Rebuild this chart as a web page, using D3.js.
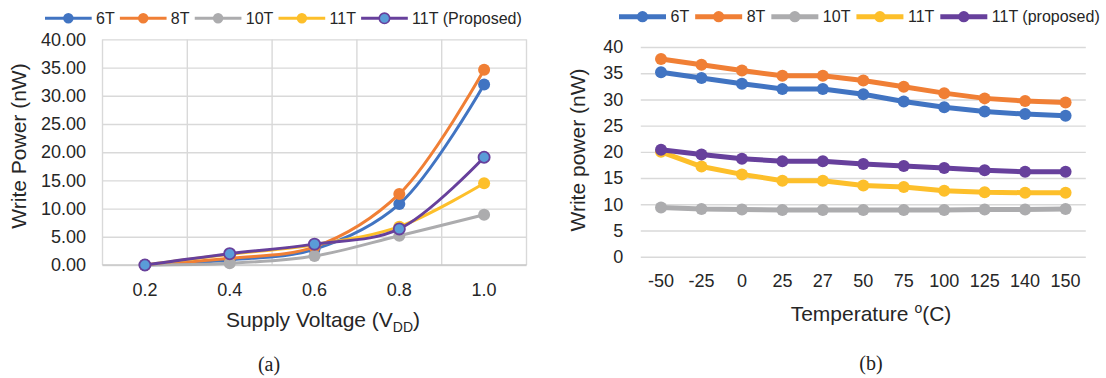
<!DOCTYPE html>
<html>
<head>
<meta charset="utf-8">
<script src="https://cdn.jsdelivr.net/npm/d3@7"></script>
<style>
  html, body { margin: 0; padding: 0; background: #fff; }
  svg { display: block; }
  text { font-family: "Liberation Sans", Arial, sans-serif; fill: #262626; }
  .caption { font-family: "Liberation Serif", "Times New Roman", serif; fill: #222; }
</style>
</head>
<body>
<svg id="fig" width="1106" height="378"></svg>
<script>
// ---- Panel (a): write power versus supply voltage ----
const voltages = ["0.2", "0.4", "0.6", "0.8", "1.0"];
const voltTicks = [0, 5, 10, 15, 20, 25, 30, 35, 40];
const volt6T   = [0, 0.9, 2.8, 10.8, 32.0];
const volt8T   = [0, 1.2, 3.2, 12.6, 34.6];
const volt10T  = [0, 0.3, 1.6, 5.2, 8.9];
const volt11T  = [0, 1.9, 3.6, 6.8, 14.5];
const volt11TP = [0, 2.0, 3.7, 6.4, 19.1];

// ---- Panel (b): write power versus temperature ----
const temps = ["-50", "-25", "0", "25", "27", "50", "75", "100", "125", "140", "150"];
const tempTicks = [0, 5, 10, 15, 20, 25, 30, 35, 40];
const temp6T   = [35.2, 34.1, 33.0, 32.0, 32.0, 31.0, 29.6, 28.5, 27.7, 27.2, 26.9];
const temp8T   = [37.7, 36.6, 35.5, 34.5, 34.5, 33.6, 32.4, 31.2, 30.2, 29.7, 29.4];
const temp10T  = [9.4, 9.1, 9.0, 8.9, 8.9, 8.9, 8.9, 8.9, 9.0, 9.0, 9.1];
const temp11T  = [20.0, 17.2, 15.7, 14.5, 14.5, 13.6, 13.3, 12.6, 12.3, 12.2, 12.2];
const temp11TP = [20.4, 19.5, 18.7, 18.2, 18.2, 17.7, 17.3, 16.9, 16.5, 16.2, 16.2];

const seriesNamesA = ["6T", "8T", "10T", "11T", "11T (Proposed)"];
const seriesNamesB = ["6T", "8T", "10T", "11T", "11T (proposed)"];
const colors = ["#4174c2", "#f07f35", "#acacae", "#fdbf2a", "#67409c"];
const proposedFill = "#5a9cd8";

const svg = d3.select("#fig");

// Legend: line + marker + label, laid out left to right
function legend(g, names, opt) {
  let x = opt.x0;
  names.forEach((name, i) => {
    const item = g.append("g");
    item.append("line")
      .attr("x1", x).attr("x2", x + opt.lineLen)
      .attr("y1", opt.y).attr("y2", opt.y)
      .attr("stroke", colors[i]).attr("stroke-width", opt.lw);
    const hollow = opt.proposedHollow && i === 4;
    item.append("circle")
      .attr("cx", x + opt.lineLen / 2).attr("cy", opt.y).attr("r", opt.r)
      .attr("fill", hollow ? proposedFill : colors[i])
      .attr("stroke", hollow ? colors[i] : "none").attr("stroke-width", 1.6);
    const t = item.append("text")
      .attr("x", x + opt.lineLen + opt.gap).attr("y", opt.y).attr("dy", "0.36em")
      .style("font-size", "16px").text(name);
    x = x + opt.lineLen + opt.gap + t.node().getComputedTextLength() + opt.after;
  });
}

// ===================== Panel (a) =====================
{
  const left = 102.5, right = 526.5, top = 39.4, bottom = 265;
  const x = d3.scaleBand().domain(voltages).range([left, right]);
  const y = d3.scaleLinear().domain([0, 40]).range([bottom, top]);
  const g = svg.append("g");

  // horizontal gridlines
  g.append("g").attr("transform", `translate(${left},0)`)
    .call(d3.axisLeft(y).tickValues(voltTicks).tickSize(-(right - left)).tickFormat(""))
    .call(s => s.select(".domain").remove())
    .call(s => s.selectAll("line").attr("stroke", "#d9d9d9").attr("stroke-width", 1.4));
  // vertical gridlines at category boundaries
  g.append("g").selectAll("line")
    .data(voltages.concat(["end"]))
    .join("line")
    .attr("x1", d => d === "end" ? right : x(d))
    .attr("x2", d => d === "end" ? right : x(d))
    .attr("y1", top).attr("y2", bottom)
    .attr("stroke", "#d9d9d9").attr("stroke-width", 1.4);
  // baseline
  g.append("line").attr("x1", left).attr("x2", right).attr("y1", y(0)).attr("y2", y(0))
    .attr("stroke", "#c8c8c8").attr("stroke-width", 1.6);

  // y tick labels
  g.append("g").attr("transform", `translate(${left},0)`)
    .call(d3.axisLeft(y).tickValues(voltTicks).tickSize(0).tickPadding(16.5).tickFormat(d3.format(".2f")))
    .call(s => s.select(".domain").remove())
    .call(s => s.selectAll("text").style("font-size", "18px").style("font-family", "Liberation Sans, Arial, sans-serif").attr("fill", "#262626"));
  // x tick labels
  g.append("g").attr("transform", `translate(0,${bottom})`)
    .call(d3.axisBottom(x).tickSize(0).tickPadding(18.2))
    .call(s => s.select(".domain").remove())
    .call(s => s.selectAll("text").style("font-size", "18px").style("font-family", "Liberation Sans, Arial, sans-serif").attr("fill", "#262626"));

  const data = [volt6T, volt8T, volt10T, volt11T, volt11TP];
  const line = d3.line()
    .x((d, i) => x(voltages[i]) + x.bandwidth() / 2)
    .y(d => y(d))
    .curve(d3.curveCatmullRom.alpha(0.5));
  data.forEach((vals, si) => {
    const sg = g.append("g");
    sg.append("path").datum(vals).attr("d", line)
      .attr("fill", "none").attr("stroke", colors[si]).attr("stroke-width", 3);
    sg.selectAll("circle").data(vals).join("circle")
      .attr("cx", (d, i) => x(voltages[i]) + x.bandwidth() / 2)
      .attr("cy", d => y(d))
      .attr("r", si === 4 ? 5.6 : 6)
      .attr("fill", si === 4 ? proposedFill : colors[si])
      .attr("stroke", si === 4 ? colors[si] : "none")
      .attr("stroke-width", 1.8);
  });

  // axis titles
  g.append("text")
    .attr("transform", "translate(25.5,146) rotate(-90)")
    .attr("text-anchor", "middle")
    .style("font-size", "21px")
    .text("Write Power (nW)");
  const xt = g.append("text")
    .attr("x", 323).attr("y", 327).attr("text-anchor", "middle")
    .style("font-size", "21px");
  xt.append("tspan").text("Supply Voltage (V");
  xt.append("tspan").attr("dy", 5).style("font-size", "14px").text("DD");
  xt.append("tspan").attr("dy", -5).text(")");

  legend(g.append("g"), seriesNamesA, { x0: 45, y: 18.3, lineLen: 46.7, gap: 4.3, after: 5.2, lw: 3, r: 5.2, proposedHollow: true });

  g.append("text").attr("class", "caption")
    .attr("x", 269).attr("y", 370.5).attr("text-anchor", "middle")
    .style("font-size", "20px").text("(a)");
}

// ===================== Panel (b) =====================
{
  const left = 640.8, right = 1085.8, top = 47, bottom = 256.7;
  const x = d3.scaleBand().domain(temps).range([left, right]);
  const y = d3.scaleLinear().domain([0, 40]).range([bottom, top]);
  const g = svg.append("g");

  g.append("g").attr("transform", `translate(${left},0)`)
    .call(d3.axisLeft(y).tickValues(tempTicks).tickSize(-(right - left)).tickFormat(""))
    .call(s => s.select(".domain").remove())
    .call(s => s.selectAll("line").attr("stroke", "#d9d9d9").attr("stroke-width", 1.4));

  g.append("g").attr("transform", `translate(${left},0)`)
    .call(d3.axisLeft(y).tickValues(tempTicks).tickSize(0).tickPadding(17.5))
    .call(s => s.select(".domain").remove())
    .call(s => s.selectAll("text").style("font-size", "18px").style("font-family", "Liberation Sans, Arial, sans-serif").attr("fill", "#262626"));
  g.append("g").attr("transform", `translate(0,${bottom})`)
    .call(d3.axisBottom(x).tickSize(0).tickPadding(17.8))
    .call(s => s.select(".domain").remove())
    .call(s => s.selectAll("text").style("font-size", "18px").style("font-family", "Liberation Sans, Arial, sans-serif").attr("fill", "#262626"));

  const data = [temp6T, temp8T, temp10T, temp11T, temp11TP];
  const line = d3.line()
    .x((d, i) => x(temps[i]) + x.bandwidth() / 2)
    .y(d => y(d));
  data.forEach((vals, si) => {
    const sg = g.append("g");
    sg.append("path").datum(vals).attr("d", line)
      .attr("fill", "none").attr("stroke", colors[si]).attr("stroke-width", 5)
      .attr("stroke-linejoin", "round");
    sg.selectAll("circle").data(vals).join("circle")
      .attr("cx", (d, i) => x(temps[i]) + x.bandwidth() / 2)
      .attr("cy", d => y(d))
      .attr("r", 6)
      .attr("fill", colors[si]);
  });

  g.append("text")
    .attr("transform", "translate(585,150) rotate(-90)")
    .attr("text-anchor", "middle")
    .style("font-size", "21px")
    .text("Write power (nW)");
  const xt = g.append("text")
    .attr("x", 871).attr("y", 321).attr("text-anchor", "middle")
    .style("font-size", "21px");
  xt.append("tspan").text("Temperature ");
  xt.append("tspan").attr("dy", -8).style("font-size", "14px").text("o");
  xt.append("tspan").attr("dy", 8).text("(C)");

  legend(g.append("g"), seriesNamesB, { x0: 619, y: 16.7, lineLen: 47, gap: 4.5, after: 6, lw: 5, r: 5.6, proposedHollow: false });

  g.append("text").attr("class", "caption")
    .attr("x", 871).attr("y", 370).attr("text-anchor", "middle")
    .style("font-size", "20px").text("(b)");
}
</script>
</body>
</html>
